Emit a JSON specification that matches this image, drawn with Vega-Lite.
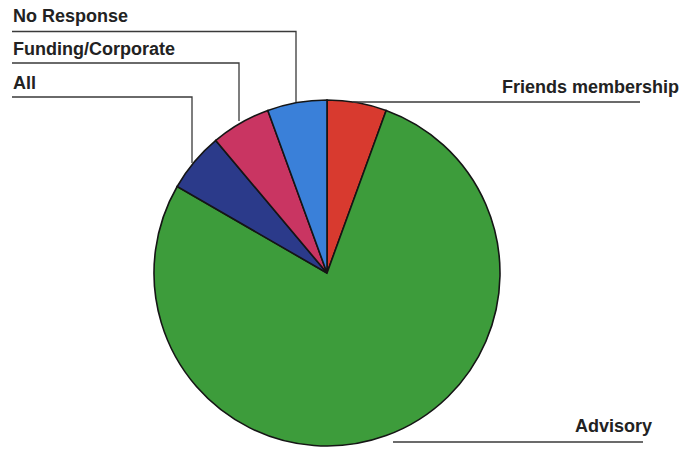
{
  "$schema": "https://vega.github.io/schema/vega-lite/v6.json",
  "width": 681,
  "height": 455,
  "autosize": {"type": "fit", "contains": "padding"},
  "padding": 0,
  "background": "white",
  "config": {"view": {"stroke": null}},
  "layer": [
    {
      "data": {"values": [
        {"category": "Friends membership", "count": 1, "order": 1},
        {"category": "Advisory", "count": 14, "order": 2},
        {"category": "All", "count": 1, "order": 3},
        {"category": "Funding/Corporate", "count": 1, "order": 4},
        {"category": "No Response", "count": 1, "order": 5}
      ]},
      "mark": {"type": "arc", "outerRadius": 173, "stroke": "#151515", "strokeWidth": 1.6},
      "encoding": {
        "theta": {"field": "count", "type": "quantitative", "stack": true},
        "order": {"field": "order", "type": "quantitative"},
        "color": {
          "field": "category", "type": "nominal", "legend": null,
          "scale": {
            "domain": ["Friends membership", "Advisory", "All", "Funding/Corporate", "No Response"],
            "range": ["#d83a2f", "#3d9c3b", "#2b3a8a", "#c93562", "#3a80d9"]
          }
        },
        "x": {"datum": 327, "type": "quantitative", "scale": {"domain": [0, 681], "nice": false, "zero": false}, "axis": null},
        "y": {"datum": 273, "type": "quantitative", "scale": {"domain": [0, 455], "nice": false, "zero": false, "reverse": true}, "axis": null}
      }
    },
    {
      "data": {"values": [
        {"label": "No Response", "seq": 1, "x": 12, "y": 31.5},
        {"label": "No Response", "seq": 2, "x": 296, "y": 31.5},
        {"label": "No Response", "seq": 3, "x": 296, "y": 102},
        {"label": "Funding/Corporate", "seq": 1, "x": 12, "y": 63},
        {"label": "Funding/Corporate", "seq": 2, "x": 239, "y": 63},
        {"label": "Funding/Corporate", "seq": 3, "x": 239, "y": 121},
        {"label": "All", "seq": 1, "x": 12, "y": 97},
        {"label": "All", "seq": 2, "x": 192, "y": 97},
        {"label": "All", "seq": 3, "x": 192, "y": 163},
        {"label": "Friends membership", "seq": 1, "x": 353, "y": 102},
        {"label": "Friends membership", "seq": 2, "x": 640, "y": 102},
        {"label": "Advisory", "seq": 1, "x": 393, "y": 442},
        {"label": "Advisory", "seq": 2, "x": 643, "y": 442}
      ]},
      "mark": {"type": "line", "color": "#3a3a3a", "strokeWidth": 1.3, "interpolate": "linear"},
      "encoding": {
        "x": {"field": "x", "type": "quantitative", "scale": {"domain": [0, 681], "nice": false, "zero": false}, "axis": null},
        "y": {"field": "y", "type": "quantitative", "scale": {"domain": [0, 455], "nice": false, "zero": false, "reverse": true}, "axis": null},
        "detail": {"field": "label", "type": "nominal"},
        "order": {"field": "seq", "type": "quantitative"}
      }
    },
    {
      "data": {"values": [
        {"label": "No Response", "x": 13, "y": 22, "align": "left"},
        {"label": "Funding/Corporate", "x": 13, "y": 55, "align": "left"},
        {"label": "All", "x": 13, "y": 89, "align": "left"},
        {"label": "Friends membership", "x": 679, "y": 93, "align": "right"},
        {"label": "Advisory", "x": 652, "y": 432, "align": "right"}
      ]},
      "transform": [{"filter": "datum.align == 'left'"}],
      "mark": {"type": "text", "align": "left", "baseline": "alphabetic", "font": "Liberation Sans", "fontWeight": "bold", "fontSize": 18, "color": "#222222"},
      "encoding": {
        "x": {"field": "x", "type": "quantitative", "scale": {"domain": [0, 681], "nice": false, "zero": false}, "axis": null},
        "y": {"field": "y", "type": "quantitative", "scale": {"domain": [0, 455], "nice": false, "zero": false, "reverse": true}, "axis": null},
        "text": {"field": "label", "type": "nominal"}
      }
    },
    {
      "data": {"values": [
        {"label": "No Response", "x": 13, "y": 22, "align": "left"},
        {"label": "Funding/Corporate", "x": 13, "y": 55, "align": "left"},
        {"label": "All", "x": 13, "y": 89, "align": "left"},
        {"label": "Friends membership", "x": 679, "y": 93, "align": "right"},
        {"label": "Advisory", "x": 652, "y": 432, "align": "right"}
      ]},
      "transform": [{"filter": "datum.align == 'right'"}],
      "mark": {"type": "text", "align": "right", "baseline": "alphabetic", "font": "Liberation Sans", "fontWeight": "bold", "fontSize": 18, "color": "#222222"},
      "encoding": {
        "x": {"field": "x", "type": "quantitative", "scale": {"domain": [0, 681], "nice": false, "zero": false}, "axis": null},
        "y": {"field": "y", "type": "quantitative", "scale": {"domain": [0, 455], "nice": false, "zero": false, "reverse": true}, "axis": null},
        "text": {"field": "label", "type": "nominal"}
      }
    }
  ]
}
